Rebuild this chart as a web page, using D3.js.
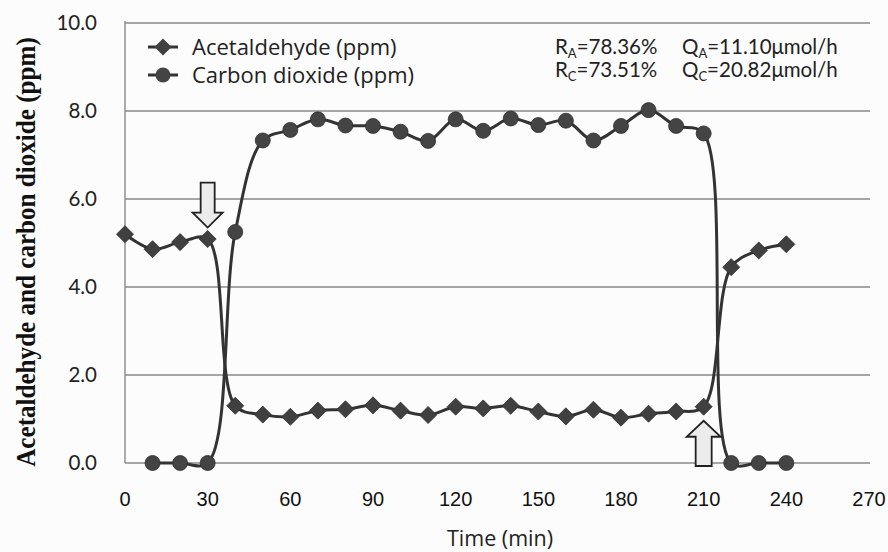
<!DOCTYPE html>
<html>
<head>
<meta charset="utf-8">
<script src="https://cdn.jsdelivr.net/npm/d3@7"></script>
<style>
    body { margin: 0; background: #fcfcfc; }
    svg { display: block; }
</style>
</head>
<body>
<svg id="chart" width="888" height="552"></svg>
<script>
// vim: set expandtab shiftwidth=4 softtabstop=4:

// sampling times (min) and readings (ppm)
var times = [0, 10, 20, 30, 40, 50, 60, 70, 80, 90, 100, 110, 120,
             130, 140, 150, 160, 170, 180, 190, 200, 210, 220, 230, 240];
var acetaldehyde = [5.20, 4.86, 5.02, 5.09, 1.30, 1.10, 1.05, 1.19, 1.22,
                    1.31, 1.19, 1.09, 1.28, 1.24, 1.30, 1.17, 1.06, 1.21,
                    1.03, 1.12, 1.17, 1.28, 4.45, 4.83, 4.97];
var carbon_dioxide = [null, 0.00, 0.00, 0.00, 5.25, 7.33, 7.57, 7.81, 7.67,
                      7.66, 7.53, 7.32, 7.81, 7.55, 7.83, 7.68, 7.78, 7.33,
                      7.66, 8.02, 7.66, 7.49, 0.00, 0.00, 0.00];

var x_ticks = [0, 30, 60, 90, 120, 150, 180, 210, 240, 270];
var y_ticks = [0, 2, 4, 6, 8, 10];

// light on / light off markers
var arrow_times = [30, 210];
var arrow_tips = [5.35, 0.96];
var arrow_dirs = ["down", "up"];

var series_names = ["Acetaldehyde (ppm)", "Carbon dioxide (ppm)"];
var stats_rows = [
    [["R", "A", "=78.36%"], ["Q", "A", "=11.10\u03bcmol/h"]],
    [["R", "C", "=73.51%"], ["Q", "C", "=20.82\u03bcmol/h"]],
];

var ink = "#333";
var grid = "#8a8a8a";
var label_font = "Lato, 'Open Sans', sans-serif";
var legend_font = "'Open Sans', sans-serif";
var axis_font = "'Liberation Sans', Arial, sans-serif";

var svg = d3.select("#chart");
var x = d3.scaleLinear().domain([0, 270]).range([125, 869]);
var y = d3.scaleLinear().domain([0, 10]).range([463, 23]);

//
// grid and axes
//
svg.append("g").selectAll("line").data(y_ticks).join("line")
    .attr("x1", x(0)).attr("x2", 870)
    .attr("y1", function(d) { return y(d); })
    .attr("y2", function(d) { return y(d); })
    .attr("stroke", grid).attr("stroke-width", 1.4);
svg.append("line")
    .attr("x1", x(0)).attr("x2", x(0))
    .attr("y1", y(10) - 2).attr("y2", y(0))
    .attr("stroke", grid).attr("stroke-width", 1.4);

svg.append("g").selectAll("text").data(y_ticks).join("text")
    .attr("x", 97)
    .attr("y", function(d) { return y(d) + 7; })
    .attr("text-anchor", "end")
    .attr("font-family", label_font).attr("font-size", 20.5)
    .attr("fill", "#222")
    .text(function(d) { return d.toFixed(1); });

svg.append("g").selectAll("text").data(x_ticks).join("text")
    .attr("x", function(d) { return x(d); })
    .attr("y", 506)
    .attr("text-anchor", "middle")
    .attr("font-family", axis_font).attr("font-size", 20)
    .attr("fill", "#111")
    .text(function(d) { return d; });

svg.append("text")
    .attr("x", 500).attr("y", 546)
    .attr("text-anchor", "middle")
    .attr("font-family", legend_font).attr("font-size", 21.5)
    .attr("fill", "#222")
    .text("Time (min)");

// bold serif title, squeezed a little along its length
svg.append("text")
    .attr("transform", "translate(35,252) rotate(-90) scale(0.93,1)")
    .attr("text-anchor", "middle")
    .attr("font-family", "'Liberation Serif', serif")
    .attr("font-weight", "bold").attr("font-size", 27)
    .attr("fill", "#111")
    .text("Acetaldehyde and carbon dioxide (ppm)");

//
// series lines
//
function series_line(values) {
    return d3.line()
        .defined(function(d, i) { return values[i] !== null; })
        .x(function(d, i) { return x(times[i]); })
        .y(function(d, i) { return y(values[i]); })
        .curve(d3.curveCatmullRom.alpha(0.5))(values);
}

[acetaldehyde, carbon_dioxide].forEach(function(values) {
    svg.append("path")
        .attr("d", series_line(values))
        .attr("fill", "none")
        .attr("stroke", ink).attr("stroke-width", 3);
});

var diamond = d3.symbol().type(d3.symbolDiamond2).size(185);

svg.append("g").selectAll("path").data(acetaldehyde).join("path")
    .attr("transform", function(d, i) {
        return "translate(" + x(times[i]) + "," + y(d) + ")";
    })
    .attr("d", diamond)
    .attr("fill", "#404040").attr("stroke", "#2e2e2e").attr("stroke-width", 0.8);

svg.append("g").selectAll("circle")
    .data(carbon_dioxide.filter(function(d) { return d !== null; }))
    .join("circle")
    .attr("cx", function(d, i) { return x(times[i + 1]); })
    .attr("cy", function(d) { return y(d); })
    .attr("r", 7.5)
    .attr("fill", "#444").attr("stroke", "#2e2e2e").attr("stroke-width", 0.8);

//
// arrows marking the switch points
//
arrow_times.forEach(function(t, i) {
    var cx = x(t);
    var tip = y(arrow_tips[i]);
    var pts;
    if (arrow_dirs[i] == "down") {
        pts = [[cx - 7, tip - 45], [cx + 7, tip - 45], [cx + 7, tip - 15],
               [cx + 15, tip - 15], [cx, tip], [cx - 15, tip - 15],
               [cx - 7, tip - 15]];
    } else {
        var base = y(0) + 3;
        pts = [[cx - 8, base], [cx + 8, base], [cx + 8, tip + 16],
               [cx + 17, tip + 16], [cx, tip], [cx - 17, tip + 16],
               [cx - 8, tip + 16]];
    }
    svg.append("polygon")
        .attr("points", pts.map(function(p) { return p.join(","); }).join(" "))
        .attr("fill", "#ececec").attr("stroke", "#222")
        .attr("stroke-width", 1.8);
});

//
// legend
//
var legend = svg.append("g");
series_names.forEach(function(name, i) {
    var ly = 47 + i * 28;
    legend.append("line")
        .attr("x1", 148).attr("x2", 178).attr("y1", ly).attr("y2", ly)
        .attr("stroke", ink).attr("stroke-width", 3);
    if (i == 0) {
        legend.append("path")
            .attr("transform", "translate(163," + ly + ")")
            .attr("d", diamond)
            .attr("fill", "#404040");
    } else {
        legend.append("circle")
            .attr("cx", 163).attr("cy", ly).attr("r", 7.5)
            .attr("fill", "#444");
    }
    legend.append("text")
        .attr("x", 192).attr("y", ly + 8)
        .attr("font-family", legend_font).attr("font-size", 22)
        .attr("fill", "#222")
        .text(name);
});

stats_rows.forEach(function(row, r) {
    var ty = 54 + r * 23;
    [555, 682].forEach(function(tx, c) {
        var t = svg.append("text")
            .attr("x", tx).attr("y", ty)
            .attr("font-family", label_font).attr("font-size", 20.5)
            .attr("fill", "#222");
        t.append("tspan").text(row[c][0]);
        t.append("tspan").attr("font-size", 13).attr("dy", 4)
            .text(row[c][1]);
        t.append("tspan").attr("dy", -4).text(row[c][2]);
    });
});
</script>
</body>
</html>
